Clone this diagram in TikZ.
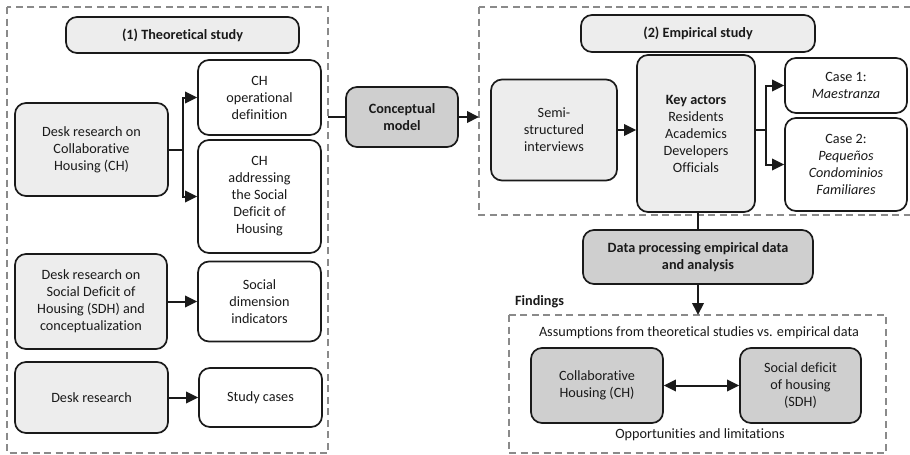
\documentclass[tikz,border=0pt]{standalone}
\usepackage{fontspec}
\setmainfont{Carlito}[Ligatures=NoCommon]
\usetikzlibrary{arrows.meta}
\definecolor{lightbox}{HTML}{EDEDED}
\definecolor{darkbox}{HTML}{CFCFCF}
\definecolor{dashgray}{HTML}{8A8A8A}
\definecolor{ink}{HTML}{1A1A1A}
\begin{document}
\begin{tikzpicture}[x=1pt,y=-1pt,
  box/.style={draw=ink, line width=1.7pt, rounded corners=11pt, align=center, inner sep=2pt, text=ink,
    font=\fontsize{14.2}{17}\selectfont},
  wbox/.style={box, fill=white},
  lbox/.style={box, fill=lightbox},
  dbox/.style={box, fill=darkbox},
  dashbox/.style={draw=dashgray, line width=1.4pt, dash pattern=on 7pt off 4.5pt},
  conn/.style={draw=ink, line width=2pt},
  arr/.style={conn, -{Triangle[length=12pt,width=11.5pt]}},
  darr/.style={conn, {Triangle[length=12pt,width=11.5pt]}-{Triangle[length=12pt,width=11.5pt]}},
  lab/.style={text=ink, font=\fontsize{14.2}{17}\selectfont, inner sep=1pt}
]
\fill[white] (0,0) rectangle (910,455);
\useasboundingbox (0,0) rectangle (910,455);

% dashed frames
\draw[dashbox] (7,7) rectangle (328,453);
\draw[dashbox] (479,7) rectangle (918,215);
\draw[dashbox] (509,315) rectangle (886,453);

% left part
\node[lbox, minimum width=233pt, minimum height=36pt] (t1) at (182.5,35) {\textbf{(1) Theoretical study}};
\node[lbox, minimum width=153pt, minimum height=93pt] (dch) at (91.5,149.5) {Desk research on\\Collaborative\\Housing (CH)};
\node[wbox, minimum width=123pt, minimum height=75pt] (chop) at (259.5,97.5) {CH\\operational\\definition};
\node[wbox, minimum width=123pt, minimum height=113pt] (chsdh) at (259.5,196.5) {CH\\addressing\\the Social\\Deficit of\\Housing};
\node[lbox, minimum width=152pt, minimum height=95pt] (dsdh) at (91,301.5) {Desk research on\\Social Deficit of\\Housing (SDH) and\\conceptualization};
\node[wbox, minimum width=123pt, minimum height=80pt] (sdi) at (259.5,301.5) {Social\\dimension\\indicators};
\node[lbox, minimum width=153pt, minimum height=71pt] (dr) at (91.5,397.5) {Desk research};
\node[wbox, minimum width=123pt, minimum height=59pt] (sc) at (260.5,397.5) {Study cases};

% conceptual model
\node[dbox, minimum width=112pt, minimum height=60pt] (cm) at (402,117) {\textbf{Conceptual}\\\textbf{model}};

% right part
\node[lbox, minimum width=234pt, minimum height=37pt] (t2) at (698,33.5) {\textbf{(2) Empirical study}};
\node[lbox, minimum width=126pt, minimum height=101pt] (ssi) at (554,130) {Semi-\\structured\\interviews};
\node[lbox, minimum width=118pt, minimum height=157pt] (ka) at (696,133.5) {\textbf{Key actors}\\Residents\\Academics\\Developers\\Officials};
\node[wbox, minimum width=122pt, minimum height=55pt] (c1) at (846,85.5) {Case 1:\\\textit{Maestranza}};
\node[wbox, minimum width=122pt, minimum height=93pt] (c2) at (846,164.5) {Case 2:\\\textit{Pequeños}\\\textit{Condominios}\\\textit{Familiares}};
\node[dbox, minimum width=230pt, minimum height=54pt] (dp) at (698,257) {\textbf{Data processing empirical data}\\\textbf{and analysis}};

% findings
\node[lab, anchor=west] (fl) at (514,302) {\textbf{Findings}};
\node[lab] (as) at (699,333) {Assumptions from theoretical studies vs. empirical data};
\node[dbox, minimum width=132pt, minimum height=75pt] (fch) at (597,385.5) {Collaborative\\Housing (CH)};
\node[dbox, minimum width=121pt, minimum height=75pt] (fsdh) at (800.5,385.5) {Social deficit\\of housing\\(SDH)};
\node[lab] (ol) at (700,435) {Opportunities and limitations};

% connectors
\coordinate (b1) at (183,149.5);
\draw[conn] (dch.east) -- (b1);
\draw[arr] (b1) |- (chop.west);
\draw[arr] (b1) |- (chsdh.west);
\draw[arr] (dsdh.east) -- (sdi.west);
\draw[arr] (dr.east) -- (sc.west);

\coordinate (lb) at (328,117);
\coordinate (rb) at (479,117);
\draw[conn] (lb) -- (cm.west);
\draw[arr] (cm.east) -- (rb);

\draw[arr] (ssi.east) -- (ssi.east -| ka.west);
\coordinate (b2) at (766,130);
\draw[conn] (b2 -| ka.east) -- (b2);
\draw[arr] (b2) |- (c1.west);
\draw[arr] (b2) |- (c2.west);

\draw[conn] (dp.north |- ka.south) -- (dp.north);
\coordinate (ft) at (698,315);
\draw[arr] (dp.south) -- (ft);
\draw[darr] (fch.east) -- (fsdh.west);
\end{tikzpicture}
\end{document}
